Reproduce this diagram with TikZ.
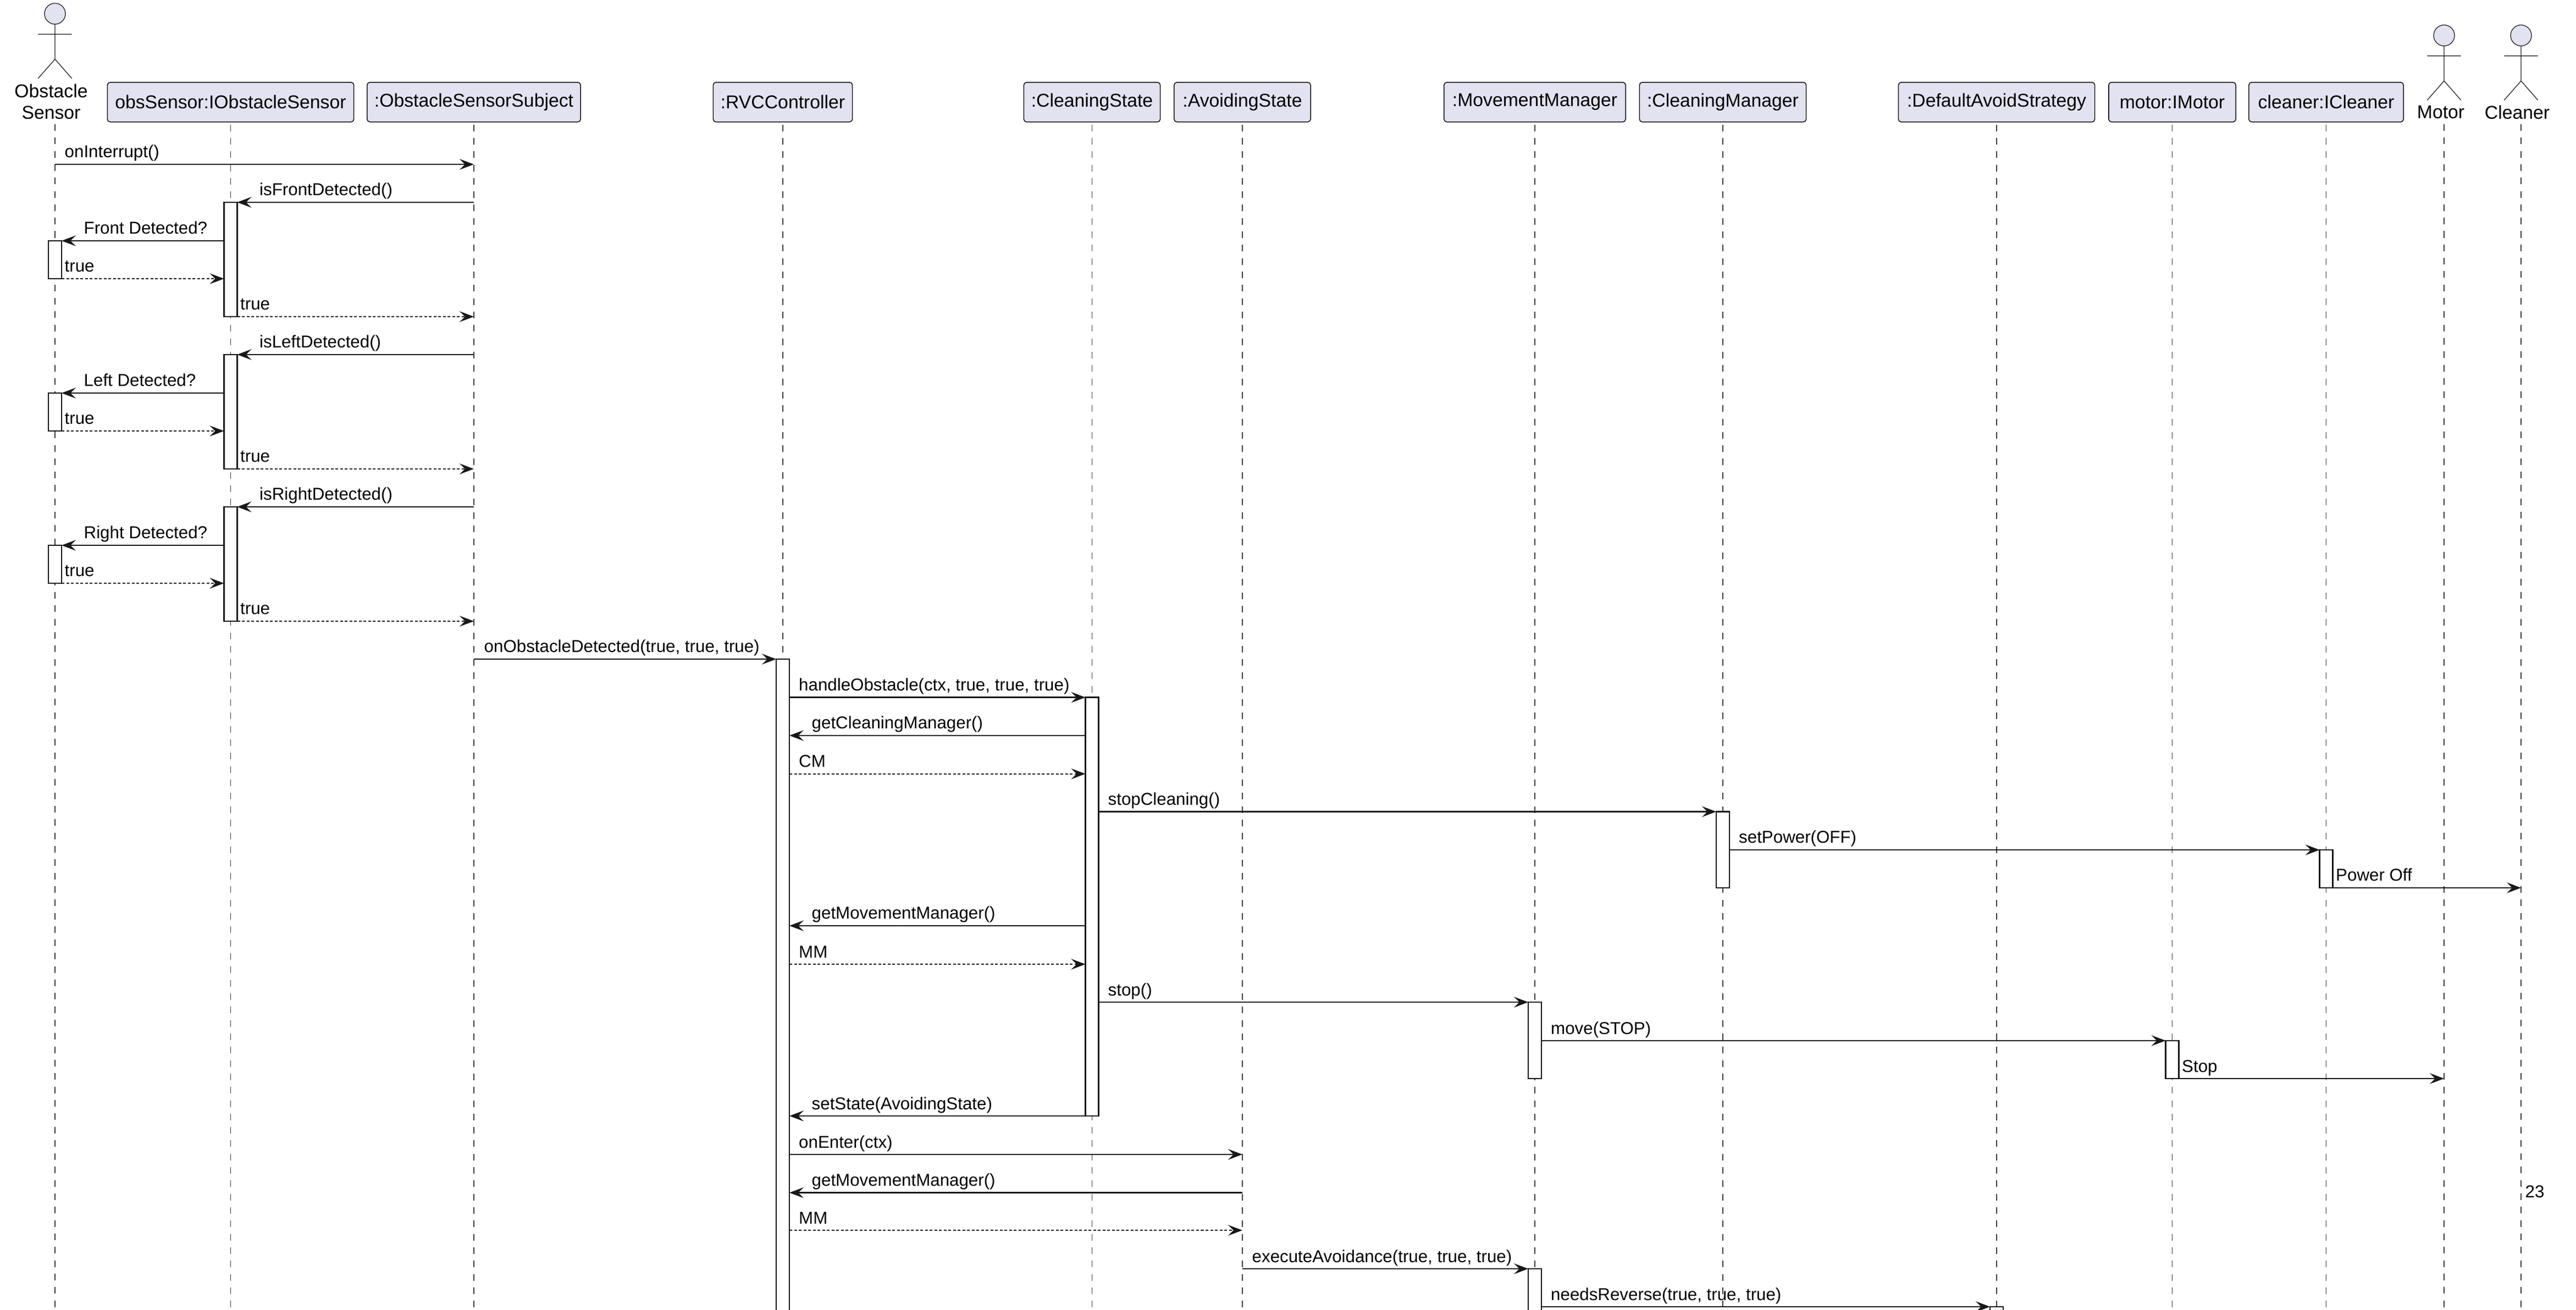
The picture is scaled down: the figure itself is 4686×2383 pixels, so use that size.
\documentclass[tikz,border=0pt]{standalone}
\usepackage{fontspec}
\setmainfont{Liberation Sans}
\usetikzlibrary{arrows.meta}
\definecolor{partfill}{HTML}{E2E2F0}
\definecolor{ink}{HTML}{181818}
\tikzset{
  part/.style={draw=ink, fill=partfill, rounded corners=0.05cm, line width=0.45pt,
    minimum height=0.72cm, inner sep=0pt, font=\fontsize{9.6}{11}\selectfont},
  lifeline/.style={draw=ink!85, line width=0.35pt, dash pattern=on 0.12cm off 0.123cm},
  actbox/.style={draw=ink, fill=white, line width=0.7pt},
  msg/.style={draw=ink, line width=0.63pt, -{Stealth[length=0.26cm, width=0.195cm, inset=0.1cm]}},
  ret/.style={msg, dash pattern=on 0.05cm off 0.035cm},
  lbl/.style={anchor=base west, inner sep=0pt, font=\fontsize{8.9}{10}\selectfont, text=black},
  actorfig/.style={draw=ink, line width=0.35pt},
  actorname/.style={inner sep=0pt, align=center, anchor=north, font=\fontsize{9.6}{11.1}\selectfont},
}
\def\xOS{100}\def\xOBS{419.5}\def\xSUB{862}\def\xRVC{1424}\def\xCS{1986.5}
\def\xAS{2260}\def\xMM{2792}\def\xCM{3134}\def\xDAS{3632}\def\xMO{3951.5}
\def\xCL{4231.5}\def\xMA{4446}\def\xCA{4586}
\newcommand{\Msg}[7]{%
  \coordinate (#1s) at (#3,#5);
  \coordinate (#1e) at (#4,#5);
  \draw[#2] (#1s) -- (#1e);
  \node[lbl] (#1l) at (#6,#5-12) {#7};
}
\newcommand{\Actor}[3]{% name, x, top of head
  \draw[actorfig, fill=partfill] (#2,#3+19) circle [radius=0.19cm];
  \draw[actorfig] (#2,#3+38) -- (#2,#3+101.7) (#2-30.7,#3+56.3) -- (#2+30.7,#3+56.3)
    (#2-30.7,#3+136.7) -- (#2,#3+101.7) -- (#2+30.7,#3+136.7);
}
\begin{document}
\begin{tikzpicture}[x=0.01cm, y=-0.01cm]
\useasboundingbox (0,0) rectangle (4686,2383);
% participants
\node[part, minimum width=4.48cm] (obs) at (\xOBS,185.8) {obsSensor:IObstacleSensor};
\node[part, minimum width=3.88cm] (sub) at (\xSUB,185.8) {:ObstacleSensorSubject};
\node[part, minimum width=2.53cm] (rvc) at (\xRVC,185.8) {:RVCController};
\node[part, minimum width=2.48cm] (cs) at (\xCS,185.8) {:CleaningState};
\node[part, minimum width=2.48cm] (as) at (\xAS,185.8) {:AvoidingState};
\node[part, minimum width=3.30cm] (mm) at (\xMM,185.8) {:MovementManager};
\node[part, minimum width=3.03cm] (cm) at (\xCM,185.8) {:CleaningManager};
\node[part, minimum width=3.57cm] (das) at (\xDAS,185.8) {:DefaultAvoidStrategy};
\node[part, minimum width=2.31cm] (mo) at (\xMO,185.8) {motor:IMotor};
\node[part, minimum width=2.81cm] (cl) at (\xCL,185.8) {cleaner:ICleaner};
% actors
\Actor{os}{\xOS}{6}
\node[actorname] (osname) at (93,152) {Obstacle\\Sensor};
\Actor{ma}{\xMA}{45.5}
\node[actorname] (maname) at (4440,191.5) {Motor};
\Actor{ca}{\xCA}{45.5}
\node[actorname] (caname) at (4579,191.5) {Cleaner};
% lifelines
\coordinate (osl) at (\xOS,226);
\coordinate (mal) at (\xMA,226);
\coordinate (cal) at (\xCA,226);
\foreach \p in {osl,mal,cal}{\draw[lifeline] (\p) -- (\p |- 0,2400);}
\foreach \p in {obs,sub,rvc,cs,as,mm,cm,das,mo,cl}{\draw[lifeline] ([yshift=-0.04cm]\p.south) -- (\p.south |- 0,2400);}
% sensor polling
\Msg{m1}{msg}{\xOS}{\xSUB}{299}{\xOS+17}{onInterrupt()}
\foreach \dy/\dir in {0/Front, 277/Left, 554/Right}{
  \draw[actbox] (\xOBS-12,368+\dy) rectangle (\xOBS+12,576+\dy);
  \draw[actbox] (\xOS-12,438+\dy) rectangle (\xOS+12,507+\dy);
  \Msg{\dir q}{msg}{\xSUB}{\xOBS+12}{368+\dy}{\xOBS+52}{is\dir Detected()}
  \Msg{\dir a}{msg}{\xOBS-12}{\xOS+12}{438+\dy}{\xOS+52}{{\dir} Detected?}
  \Msg{\dir r}{ret}{\xOS+12}{\xOBS-12}{507+\dy}{\xOS+17}{true}
  \Msg{\dir t}{ret}{\xOBS+12}{\xSUB}{576+\dy}{\xOBS+17}{true}
}
% activations
\draw[actbox] (\xRVC-12,1199) rectangle (\xRVC+12,2400);
\draw[actbox] (\xCS-12,1268.6) rectangle (\xCS+12,2030);
\draw[actbox] (\xCM-12,1476.5) rectangle (\xCM+12,1615);
\draw[actbox] (\xCL-12,1546) rectangle (\xCL+12,1615);
\draw[actbox] (\xMM-12,1823) rectangle (\xMM+12,1962);
\draw[actbox] (\xMO-12,1893) rectangle (\xMO+12,1962);
\draw[actbox] (\xMM-12,2308) rectangle (\xMM+12,2400);
\draw[actbox] (\xDAS-12,2377) rectangle (\xDAS+12,2400);
% main flow
\Msg{m14}{msg}{\xSUB}{\xRVC-12}{1199}{\xSUB+18}{onObstacleDetected(true, true, true)}
\Msg{m15}{msg}{\xRVC+12}{\xCS-12}{1268.6}{\xRVC+28.5}{handleObstacle(ctx, true, true, true)}
\Msg{m16}{msg}{\xCS-12}{\xRVC+12}{1338}{\xRVC+52}{getCleaningManager()}
\Msg{m17}{ret}{\xRVC+12}{\xCS-12}{1407.7}{\xRVC+28.5}{CM}
\Msg{m18}{msg}{\xCS+12}{\xCM-12}{1476.5}{\xCS+28.5}{stopCleaning()}
\Msg{m19}{msg}{\xCM+12}{\xCL-12}{1546}{\xCM+28.5}{setPower(OFF)}
\Msg{m20}{msg}{\xCL+12}{\xCA}{1615}{\xCL+17}{Power Off}
\Msg{m21}{msg}{\xCS-12}{\xRVC+12}{1684}{\xRVC+52}{getMovementManager()}
\Msg{m22}{ret}{\xRVC+12}{\xCS-12}{1754}{\xRVC+28.5}{MM}
\Msg{m23}{msg}{\xCS+12}{\xMM-12}{1823}{\xCS+28.5}{stop()}
\Msg{m24}{msg}{\xMM+12}{\xMO-12}{1893}{\xMM+28.5}{move(STOP)}
\Msg{m25}{msg}{\xMO+12}{\xMA}{1962}{\xMO+17}{Stop}
\Msg{m26}{msg}{\xCS-12}{\xRVC+12}{2030}{\xRVC+52}{setState(AvoidingState)}
\Msg{m27}{msg}{\xRVC+12}{\xAS}{2100}{\xRVC+28.5}{onEnter(ctx)}
\Msg{m28}{msg}{\xAS}{\xRVC+12}{2169.6}{\xRVC+52}{getMovementManager()}
\Msg{m29}{ret}{\xRVC+12}{\xAS}{2238}{\xRVC+28.5}{MM}
\Msg{m30}{msg}{\xAS}{\xMM-12}{2308}{\xAS+17}{executeAvoidance(true, true, true)}
\Msg{m31}{msg}{\xMM+12}{\xDAS-12}{2377}{\xMM+28.5}{needsReverse(true, true, true)}
\node[lbl] (pg) at (4593,2178) {23};
\end{tikzpicture}
\end{document}
